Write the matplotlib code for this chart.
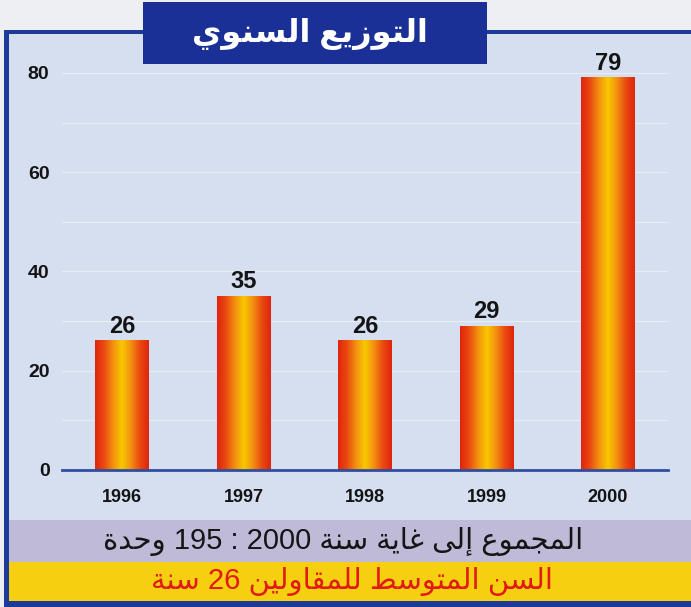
import re
import numpy as np
import matplotlib
matplotlib.use('Agg')
import matplotlib.pyplot as plt
from matplotlib.patches import Rectangle
from matplotlib.colors import LinearSegmentedColormap

years = ['1996', '1997', '1998', '1999', '2000']
counts = [26, 35, 26, 29, 79]
title = 'التوزيع السنوي'
total_note = 'المجموع إلى غاية سنة 2000 : 195 وحدة'
age_note = 'السن المتوسط للمقاولين 26 سنة'

# minimal arabic shaping: (isolated, final, initial, medial)
FORMS = {
    'ا': ('\uFE8D', '\uFE8E', None, None),
    'إ': ('\uFE87', '\uFE88', None, None),
    'ت': ('\uFE95', '\uFE96', '\uFE97', '\uFE98'),
    'ة': ('\uFE93', '\uFE94', None, None),
    'ج': ('\uFE9D', '\uFE9E', '\uFE9F', '\uFEA0'),
    'ح': ('\uFEA1', '\uFEA2', '\uFEA3', '\uFEA4'),
    'د': ('\uFEA9', '\uFEAA', None, None),
    'ز': ('\uFEAF', '\uFEB0', None, None),
    'س': ('\uFEB1', '\uFEB2', '\uFEB3', '\uFEB4'),
    'ط': ('\uFEC1', '\uFEC2', '\uFEC3', '\uFEC4'),
    'ع': ('\uFEC9', '\uFECA', '\uFECB', '\uFECC'),
    'غ': ('\uFECD', '\uFECE', '\uFECF', '\uFED0'),
    'ق': ('\uFED5', '\uFED6', '\uFED7', '\uFED8'),
    'ل': ('\uFEDD', '\uFEDE', '\uFEDF', '\uFEE0'),
    'م': ('\uFEE1', '\uFEE2', '\uFEE3', '\uFEE4'),
    'ن': ('\uFEE5', '\uFEE6', '\uFEE7', '\uFEE8'),
    'و': ('\uFEED', '\uFEEE', None, None),
    'ى': ('\uFEEF', '\uFEF0', None, None),
    'ي': ('\uFEF1', '\uFEF2', '\uFEF3', '\uFEF4'),
}


def shape(text):
    out = []
    for i, ch in enumerate(text):
        if ch not in FORMS:
            out.append(ch)
            continue
        prev = text[i - 1] if i > 0 else ''
        nxt = text[i + 1] if i + 1 < len(text) else ''
        iso, fin, ini, med = FORMS[ch]
        jp = prev in FORMS and FORMS[prev][2] is not None
        jn = ini is not None and nxt in FORMS
        if jp and jn:
            out.append(med)
        elif jp:
            out.append(fin)
        elif jn:
            out.append(ini)
        else:
            out.append(iso)
    vis = ''.join(out)[::-1]
    return re.sub(r'[0-9]+', lambda m: m.group(0)[::-1], vis)


W, H = 691, 607
fig = plt.figure(figsize=(W / 100, H / 100), dpi=100, facecolor='#edeff2')


def box(x0, y0, x1, y1, color, z=0):
    fig.add_artist(Rectangle((x0 / W, 1 - y1 / H), (x1 - x0) / W, (y1 - y0) / H,
                             transform=fig.transFigure, color=color, lw=0, zorder=z))


blue = '#1c3a98'
box(5, 32, W, 603, '#d5dff0')
box(4, 30, W, 34, blue, 1)
box(4, 30, 9, H, blue, 1)
box(4, 601, W, H, blue, 1)
box(9, 520, W, 562, '#bfbad7', 1)
box(9, 562, W, 601, '#f5cf10', 1)
box(143, 2, 487, 64, '#1a3096', 2)

ar = ['Liberation Sans', 'DejaVu Sans']
fig.text(310 / W, 1 - 34 / H, shape(title), ha='center', va='center',
         color='white', fontsize=23, fontweight='bold', family=ar, zorder=3)
fig.text(343 / W, 1 - 541 / H, shape(total_note), ha='center', va='center',
         color='#151515', fontsize=21, family=ar, zorder=3)
fig.text(352 / W, 1 - 581 / H, shape(age_note), ha='center', va='center',
         color='#e01a14', fontsize=21, family=ar, zorder=3)

ax = fig.add_axes([62 / W, 1 - 470 / H, 606 / W, 407 / H])
ax.patch.set_alpha(0)
x = np.arange(len(years))
bars = ax.bar(x, counts, width=0.44, color='none')

cmap = LinearSegmentedColormap.from_list(
    'bar', ['#e0240e', '#ea4a10', '#f39010', '#f8c800', '#f39010', '#ea4a10', '#e0240e'])
grad = np.linspace(0, 1, 256).reshape(1, -1)
for b, v in zip(bars, counts):
    x0, w = b.get_x(), b.get_width()
    ax.imshow(grad, cmap=cmap, aspect='auto', zorder=2,
              extent=(x0, x0 + w, 0, b.get_height()))
    ax.text(b.get_x() + w / 2, v + 0.6, str(v), ha='center', va='bottom',
            fontsize=17, fontweight='bold', family='Liberation Sans', color='#141414')

ax.set_xlim(-0.494, 4.494)
ax.set_ylim(0, 82)
ax.set_yticks(range(0, 81, 20))
ax.set_yticks(range(10, 81, 20), minor=True)
ax.set_xticks(x)
ax.set_xticklabels(years)
ax.grid(axis='y', which='both', color='white', lw=0.9, alpha=0.45, zorder=0)
ax.set_axisbelow(True)
for s in ['left', 'right', 'top']:
    ax.spines[s].set_visible(False)
ax.spines['bottom'].set_color('#2f4ea0')
ax.spines['bottom'].set_linewidth(2)
ax.tick_params(axis='y', which='both', length=0, pad=9)
ax.tick_params(axis='x', length=0, pad=14)
for lab in ax.get_yticklabels():
    lab.set(fontsize=14, fontweight='bold', family='Liberation Sans', color='#141414')
for lab in ax.get_xticklabels():
    lab.set(fontsize=13, fontweight='bold', family='Liberation Sans', color='#141414')

fig.savefig('out.png', dpi=100)
